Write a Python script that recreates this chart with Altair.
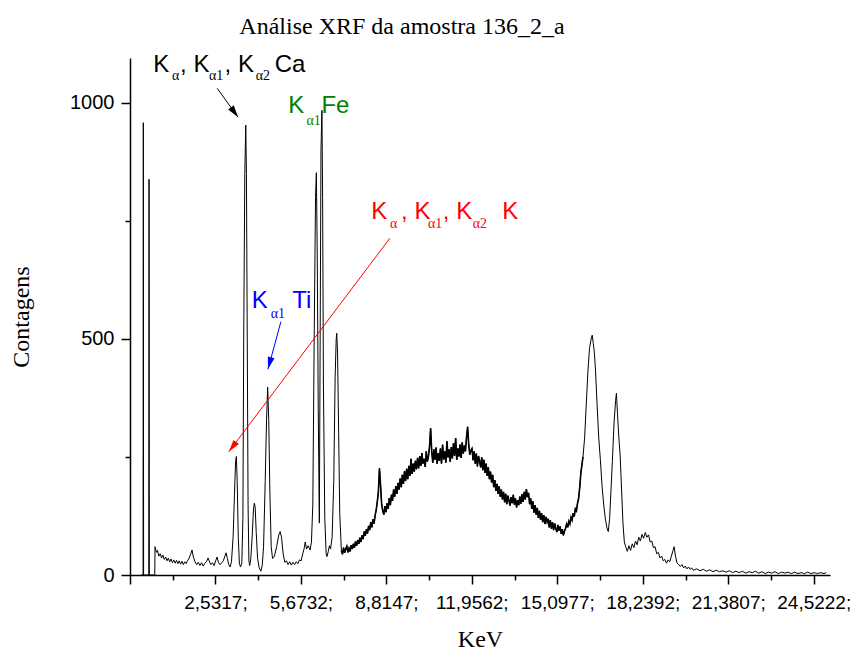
import math
import altair as alt
import pandas as pd

TITLE = "Análise XRF da amostra 136_2_a"
X_TITLE = "KeV"
Y_TITLE = "Contagens"

# ---- spectrum: (keV, counts) ----
seg_peaks = [
    (-0.20, 0), (-0.13, 0), (-0.12, 958), (-0.11, 0), (0.08, 0), (0.09, 838), (0.10, 0),
    (0.30, 0), (0.31, 60), (0.36, 48), (0.40, 52), (0.45, 40), (0.50, 45), (0.55, 36),
    (0.60, 42), (0.65, 33), (0.70, 38), (0.75, 30), (0.80, 36), (0.85, 28), (0.90, 34),
    (0.95, 26), (1.00, 32), (1.05, 25), (1.10, 31), (1.15, 24), (1.20, 30), (1.25, 23),
    (1.30, 29), (1.35, 22), (1.40, 28), (1.45, 24), (1.50, 30), (1.55, 34), (1.62, 44),
    (1.67, 53), (1.72, 38), (1.78, 28), (1.84, 22), (1.90, 27), (1.96, 20), (2.02, 26),
    (2.08, 19), (2.14, 25), (2.20, 28), (2.26, 36), (2.30, 30), (2.36, 22), (2.42, 26),
    (2.48, 20), (2.54, 30), (2.59, 38), (2.64, 27), (2.70, 22), (2.76, 26), (2.82, 30),
    (2.88, 40), (2.92, 47), (2.97, 35), (3.02, 22), (3.07, 17), (3.12, 28), (3.18, 80),
    (3.23, 170), (3.27, 240), (3.30, 251), (3.33, 200), (3.37, 80), (3.41, 25), (3.45, 17),
    (3.50, 25), (3.54, 120), (3.57, 500), (3.61, 850), (3.645, 953), (3.67, 850), (3.70, 500),
    (3.73, 150), (3.76, 30), (3.79, 20), (3.83, 35), (3.88, 80), (3.93, 140), (3.96, 152),
    (3.99, 145), (4.03, 90), (4.08, 35), (4.14, 15), (4.20, 8), (4.25, 20), (4.30, 60),
    (4.36, 200), (4.41, 330), (4.45, 398), (4.49, 330), (4.53, 180), (4.58, 60), (4.63, 35),
    (4.70, 40), (4.78, 60), (4.86, 85), (4.91, 92), (4.96, 80), (5.02, 45), (5.08, 27),
    (5.14, 30), (5.20, 22), (5.26, 28), (5.32, 21), (5.38, 27), (5.44, 22), (5.50, 28),
    (5.56, 24), (5.62, 32), (5.68, 30), (5.74, 45), (5.80, 58), (5.83, 70), (5.88, 55),
    (5.94, 62), (6.01, 53), (6.06, 70), (6.11, 150), (6.16, 500), (6.21, 800), (6.24, 852),
    (6.27, 700), (6.31, 350), (6.35, 110), (6.38, 500), (6.41, 900), (6.445, 984), (6.47, 800),
    (6.50, 400), (6.55, 120), (6.60, 45), (6.63, 39), (6.68, 50), (6.72, 62), (6.76, 55),
    (6.82, 80), (6.88, 200), (6.93, 420), (6.97, 500), (6.99, 512), (7.02, 470), (7.06, 300),
    (7.10, 130),
]

# broad scattering hump, channels every 0.04 keV from 7.16 keV
hump_start_kev = 7.16
hump_step_kev = 0.04
hump_counts = [
    52, 44, 58, 47, 55, 61, 48, 57, 50, 63,
    55, 66, 58, 71, 62, 74, 66, 79, 70, 84,
    76, 92, 83, 97, 88, 104, 95, 112, 101, 118,
    109, 126, 138, 155, 176, 226, 190, 150, 136, 128,
    146, 133, 152, 140, 163, 148, 170, 157, 181, 166,
    188, 172, 195, 181, 204, 186, 212, 193, 220, 199,
    225, 203, 231, 210, 246, 214, 236, 219, 242, 224,
    248, 226, 252, 231, 258, 236, 246, 229, 262, 240,
    251, 272, 311, 262, 238, 266, 244, 270, 236, 258,
    242, 268, 236, 276, 245, 262, 238, 283, 249, 266,
    240, 271, 247, 279, 252, 290, 244, 268, 251, 276,
    248, 281, 257, 274, 262, 292, 314, 276, 255, 264,
    268, 243, 262, 236, 257, 230, 252, 241, 228, 249,
    222, 244, 216, 236, 210, 228, 203, 219, 196, 212,
    186, 201, 178, 193, 172, 188, 166, 181, 160, 176,
    154, 172, 150, 168, 158, 147, 165, 152, 170, 149,
    162, 143, 158, 148, 166, 151, 171, 155, 176, 160,
    182, 165, 174, 150, 162, 140, 156, 132, 148, 128,
    142, 121, 136, 117, 131, 112, 127, 108, 123, 112,
    119, 101, 116, 98, 112, 95, 109, 99, 91, 106,
    94, 103, 87, 97, 84, 93, 99, 108, 101, 114,
    108, 122, 116, 131, 124, 140, 136, 152, 162, 185,
    215,
]

seg_high = [
    (16.04, 250), (16.10, 290), (16.16, 360), (16.22, 430), (16.28, 480), (16.34, 500),
    (16.38, 508), (16.42, 490), (16.46, 470), (16.50, 434), (16.56, 360), (16.62, 290),
    (16.68, 244), (16.74, 190), (16.80, 150), (16.86, 120), (16.92, 100), (16.97, 92),
    (17.02, 120), (17.07, 180), (17.12, 240), (17.18, 320), (17.24, 370), (17.27, 385),
    (17.31, 340), (17.36, 290), (17.41, 250), (17.46, 180), (17.51, 110), (17.56, 70),
    (17.61, 60), (17.67, 50), (17.73, 62), (17.79, 52), (17.85, 66), (17.91, 58), (17.97, 72),
    (18.03, 64), (18.09, 80), (18.15, 72), (18.21, 86), (18.27, 78), (18.33, 90), (18.39, 80),
    (18.45, 85), (18.51, 70), (18.57, 72), (18.63, 58), (18.69, 60), (18.75, 45), (18.81, 48),
    (18.87, 36), (18.93, 40), (18.99, 30), (19.05, 33), (19.11, 25), (19.17, 32), (19.23, 28),
    (19.29, 40), (19.35, 52), (19.39, 60), (19.44, 40), (19.50, 25), (19.56, 22), (19.62, 18),
    (19.68, 22), (19.74, 15), (19.80, 19), (19.86, 13), (19.92, 17), (19.98, 12), (20.04, 15),
    (20.10, 10),
]

seg_tail = [
    (20.22, 13), (20.34, 9), (20.46, 12), (20.58, 8), (20.70, 11), (20.82, 7), (20.94, 10),
    (21.06, 7), (21.18, 9), (21.30, 6), (21.42, 9), (21.54, 5), (21.66, 8), (21.78, 5),
    (21.90, 8), (22.02, 4), (22.14, 7), (22.26, 5), (22.38, 8), (22.50, 4), (22.62, 7),
    (22.74, 3), (22.86, 6), (22.98, 4), (23.10, 7), (23.22, 3), (23.34, 6), (23.46, 4),
    (23.58, 6), (23.70, 3), (23.82, 6), (23.94, 3), (24.06, 5), (24.18, 3), (24.30, 6),
    (24.42, 3), (24.54, 5), (24.66, 3), (24.78, 5), (24.90, 3), (24.98, 5),
]

# ---- axis ticks ----
x_major = [-0.6098, 2.5317, 5.6732, 8.8147, 11.9562, 15.0977, 18.2392, 21.3807, 24.5222]
x_major_labels = ["", "2,5317;", "5,6732;", "8,8147;", "11,9562;", "15,0977;",
                  "18,2392;", "21,3807;", "24,5222;"]
x_minor = [round((a + b) / 2, 5) for a, b in zip(x_major[:-1], x_major[1:])]
y_major = [0, 500, 1000]
y_minor = [250, 750]

# ---- annotations (keV, counts) ----
main_text = ["K", ", K", ", K", "Ca", "K", "Ti", "K", "Fe", "K", ", K", ", K", "K"]
main_kev = [0.243, 1.231, 2.866, 4.707, 3.865, 5.35, 5.208, 6.427, 8.256, 9.353, 10.89, 13.075]
main_cnt = [1066, 1066, 1066, 1066, 565, 565, 978, 978, 755, 755, 755, 755]
main_grp = ["Ca", "Ca", "Ca", "Ca", "Ti", "Ti", "Fe", "Fe", "K", "K", "K", "K"]

sub_text = ["α", "α1", "α2", "α1", "α1", "α", "α1", "α2"]
sub_kev = [0.938, 2.292, 4.011, 4.560, 5.877, 8.951, 10.341, 11.988]
sub_cnt = [1049, 1049, 1049, 544, 953, 734, 734, 734]
sub_grp = ["Ca", "Ca", "Ca", "Ti", "Fe", "K", "K", "K"]

arrow_grp = ["Ca", "Ti", "K"]
arrow_x = [2.595, 4.937, 8.940]
arrow_y = [1030.8, 536.5, 713.1]
arrow_x2 = [3.364, 4.461, 3.023]
arrow_y2 = [969.4, 435.7, 261.1]

groups = ["Ca", "Ti", "Fe", "K"]
group_colors = ["#000000", "#0000ff", "#008000", "#ff0000"]

X_DOMAIN = [-0.6098, 25.12]
Y_DOMAIN = [0, 1095]
W, H = 700, 517

hump = [(round(hump_start_kev + hump_step_kev * i, 3), c) for i, c in enumerate(hump_counts)]
spec_df = pd.DataFrame(seg_peaks + hump + seg_high + seg_tail, columns=["kev", "counts"])
spec_df["order"] = range(len(spec_df))
noisy_df = pd.DataFrame(hump + seg_high[:1], columns=["kev", "counts"])
noisy_df["order"] = range(len(noisy_df))

main_df = pd.DataFrame({"text": main_text, "kev": main_kev, "counts": main_cnt, "grp": main_grp})
sub_df = pd.DataFrame({"text": sub_text, "kev": sub_kev, "counts": sub_cnt, "grp": sub_grp})

sx = W / (X_DOMAIN[1] - X_DOMAIN[0])
sy = H / (Y_DOMAIN[1] - Y_DOMAIN[0])
angles = []
for a, b, c, d in zip(arrow_x, arrow_y, arrow_x2, arrow_y2):
    dxs = (c - a) * sx
    dys = -(d - b) * sy
    angles.append(math.degrees(math.atan2(dxs, -dys)) % 360)
arrow_df = pd.DataFrame({"grp": arrow_grp, "x": arrow_x, "y": arrow_y,
                         "x2": arrow_x2, "y2": arrow_y2, "angle": angles})

xs = alt.Scale(domain=X_DOMAIN, nice=False, zero=False)
ys = alt.Scale(domain=Y_DOMAIN, nice=False)
cs = alt.Scale(domain=groups, range=group_colors)

maj = "[" + ",".join(str(v) for v in x_major) + "]"
labs = "[" + ",".join("'" + s + "'" for s in x_major_labels) + "]"

# major axes (ticks 9px, labels, titles)
x_axis_major = alt.Axis(
    orient="bottom", values=x_major,
    labelExpr=f"{labs}[indexof({maj}, datum.value)]",
    tickSize=9, labelPadding=9, labelFlush=False, labelOverlap=False,
    labelFontSize=19,
    title=X_TITLE, titlePadding=15, grid=False,
)
y_axis_major = alt.Axis(
    orient="left", values=y_major, format="d",
    tickSize=9, labelPadding=7, labelOverlap=False,
    title=Y_TITLE, titlePadding=36, grid=False,
)
# minor axes (ticks 5px only)
x_axis_minor = alt.Axis(orient="bottom", values=x_minor, tickSize=5, labels=False,
                        domain=False, title=None, grid=False)
y_axis_minor = alt.Axis(orient="left", values=y_minor, tickSize=5, labels=False,
                        domain=False, title=None, grid=False)

line = alt.Chart(spec_df).mark_line(color="black", strokeWidth=1).encode(
    x=alt.X("kev:Q", scale=xs, axis=x_axis_major),
    y=alt.Y("counts:Q", scale=ys, axis=y_axis_major),
    order="order:Q",
)

noisy = alt.Chart(noisy_df).mark_line(color="black", strokeWidth=1.6).encode(
    x=alt.X("kev:Q", scale=xs, axis=None),
    y=alt.Y("counts:Q", scale=ys, axis=None),
    order="order:Q",
)

rules = alt.Chart(arrow_df).mark_rule(strokeWidth=1).encode(
    x=alt.X("x:Q", scale=xs, axis=x_axis_minor),
    y=alt.Y("y:Q", scale=ys, axis=y_axis_minor),
    x2="x2:Q",
    y2="y2:Q",
    color=alt.Color("grp:N", scale=cs, legend=None),
)

heads = alt.Chart(arrow_df).mark_point(
    shape="M0,0L0.28,1L-0.28,1Z", filled=True, opacity=1, size=600, strokeWidth=0
).encode(
    x=alt.X("x2:Q", scale=xs, axis=None),
    y=alt.Y("y2:Q", scale=ys, axis=None),
    angle=alt.Angle("angle:Q", scale=None),
    color=alt.Color("grp:N", scale=cs, legend=None),
)

main_txt = alt.Chart(main_df).mark_text(
    font="Liberation Sans", fontSize=24, align="left", baseline="alphabetic"
).encode(
    x=alt.X("kev:Q", scale=xs, axis=None),
    y=alt.Y("counts:Q", scale=ys, axis=None),
    text="text:N",
    color=alt.Color("grp:N", scale=cs, legend=None),
)

sub_txt = alt.Chart(sub_df).mark_text(
    font="Liberation Serif", fontSize=14, align="left", baseline="alphabetic"
).encode(
    x=alt.X("kev:Q", scale=xs, axis=None),
    y=alt.Y("counts:Q", scale=ys, axis=None),
    text="text:N",
    color=alt.Color("grp:N", scale=cs, legend=None),
)

chart = alt.layer(line, noisy, rules, heads, main_txt, sub_txt).resolve_axis(
    x="independent", y="independent"
).properties(
    width=W,
    height=H,
    title=alt.TitleParams(
        TITLE, font="Liberation Serif", fontSize=24, fontWeight="normal",
        color="black", anchor="middle", frame="group", dx=-78, offset=14,
    ),
    autosize=alt.AutoSizeParams(type="none"),
    padding={"left": 122, "top": 50, "right": 22, "bottom": 78},
).configure_view(stroke=None).configure_axis(
    domainColor="black", domainWidth=1.5, tickColor="black", tickWidth=1.5,
    labelColor="black", labelFont="Liberation Sans", labelFontSize=20,
    titleFont="Liberation Serif", titleFontSize=24, titleFontWeight="normal",
    titleColor="black",
)

chart.save("out.html", embed_options={"renderer": "svg", "actions": False})
